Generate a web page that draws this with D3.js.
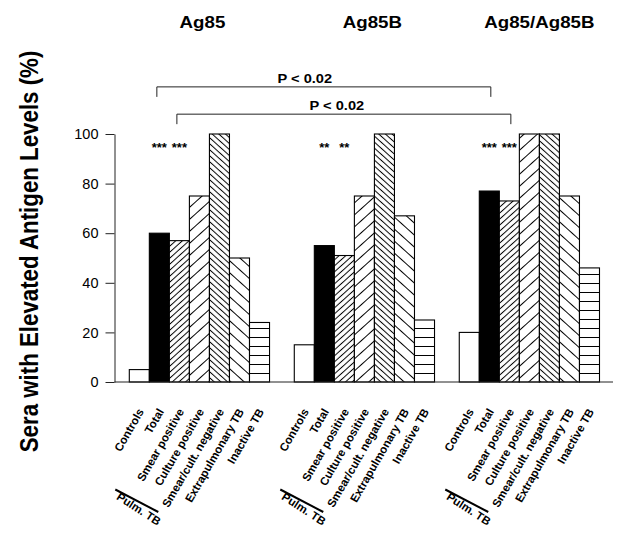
<!DOCTYPE html>
<html>
<head>
<meta charset="utf-8">
<script src="https://cdn.jsdelivr.net/npm/d3@7/dist/d3.min.js"></script>
<style>
  html, body { margin: 0; padding: 0; background: #fff; }
  svg { display: block; font-family: "Liberation Sans", Arial, Helvetica, sans-serif; }
</style>
</head>
<body>
<svg id="chart" width="625" height="541"></svg>
<script>
// ---- data ----
const groups = ["Ag85", "Ag85B", "Ag85/Ag85B"];
const categories = ["Controls", "Total", "Smear positive", "Culture positive",
                    "Smear/cult. negative", "Extrapulmonary TB", "Inactive TB"];
const ag85Values = [5, 60, 57, 75, 100, 50, 24];
const ag85BValues = [15, 55, 51, 75, 100, 67, 25];
const comboValues = [20, 77, 73, 100, 100, 75, 46];
const yTicks = [0, 20, 40, 60, 80, 100];
const starLabels = [
  { group: "Ag85", category: "Total", text: "***" },
  { group: "Ag85", category: "Smear positive", text: "***" },
  { group: "Ag85B", category: "Total", text: "**" },
  { group: "Ag85B", category: "Smear positive", text: "**" },
  { group: "Ag85/Ag85B", category: "Total", text: "***" },
  { group: "Ag85/Ag85B", category: "Smear positive", text: "***" }
];
const brackets = [
  { label: "P < 0.02", from: ["Ag85", "Total"], to: ["Ag85/Ag85B", "Total"], level: 119 },
  { label: "P < 0.02", from: ["Ag85", "Smear positive"], to: ["Ag85/Ag85B", "Smear positive"], level: 108 }
];
const yTitle = "Sera with Elevated Antigen Levels (%)";
const subGroupLabel = "Pulm. TB";

const seriesByGroup = { "Ag85": ag85Values, "Ag85B": ag85BValues, "Ag85/Ag85B": comboValues };
const fills = ["none-white", "solid", "sp", "cp", "sn", "ep", "inact"];

// ---- scales ----
const svg = d3.select("#chart");
const y = d3.scaleLinear().domain([0, 100]).range([382, 134]);
const xGroup = d3.scaleBand().domain(groups).range([129.3, 599.5]).paddingInner(0.15).paddingOuter(0);
const xCat = d3.scaleBand().domain(categories).range([0, xGroup.bandwidth()]).padding(0);
const cx = (g, c) => xGroup(g) + xCat(c) + xCat.bandwidth() / 2;
const SX = 1.17; // horizontal stretch of the original figure's lettering

// ---- patterns ----
const defs = svg.append("defs");
function diag(id, spacing, angle) {
  const p = defs.append("pattern").attr("id", id)
    .attr("patternUnits", "userSpaceOnUse")
    .attr("width", 10).attr("height", spacing)
    .attr("patternTransform", `rotate(${angle})`);
  p.append("rect").attr("width", 10).attr("height", spacing).attr("fill", "#fff");
  p.append("line").attr("x1", -1).attr("x2", 11).attr("y1", spacing / 2).attr("y2", spacing / 2)
    .attr("stroke", "#000").attr("stroke-width", 1);
}
const ang = 42;
const c = Math.cos(ang * Math.PI / 180);
diag("sp", 6 * c, -ang);
diag("cp", 12 * c, -ang);
diag("sn", 6 * c, ang);
diag("ep", 12 * c, ang);
{
  const p = defs.append("pattern").attr("id", "inact")
    .attr("patternUnits", "userSpaceOnUse")
    .attr("x", 0).attr("y", y(0)).attr("width", 10).attr("height", 9);
  p.append("rect").attr("width", 10).attr("height", 9).attr("fill", "#fff");
  p.append("line").attr("x1", 0).attr("x2", 10).attr("y1", 0.5).attr("y2", 0.5)
    .attr("stroke", "#000").attr("stroke-width", 1);
}
const fillFor = f => f === "solid" ? "#000" : f === "none-white" ? "#fff" : `url(#${f})`;

// ---- bars ----
const barData = [];
groups.forEach(g => seriesByGroup[g].forEach((v, i) => barData.push({ g, c: categories[i], v, f: fills[i] })));
svg.append("g").selectAll("rect").data(barData).join("rect")
  .attr("x", d => xGroup(d.g) + xCat(d.c))
  .attr("y", d => y(d.v))
  .attr("width", xCat.bandwidth())
  .attr("height", d => y(0) - y(d.v))
  .attr("fill", d => fillFor(d.f))
  .attr("stroke", "#000").attr("stroke-width", 1.1);

// ---- axes ----
const axisX = 114.5;
const yAxis = svg.append("g").attr("transform", `translate(${axisX},0)`)
  .call(d3.axisLeft(y).tickValues(yTicks).tickSize(9).tickSizeOuter(0).tickPadding(7));
yAxis.select(".domain").attr("stroke", "#222");
yAxis.selectAll(".tick line").attr("stroke", "#222");
yAxis.selectAll("text").attr("font-size", 14.5).attr("fill", "#000")
  .attr("font-family", "Liberation Sans, Arial, sans-serif");

svg.append("line").attr("x1", axisX).attr("x2", 613).attr("y1", y(0)).attr("y2", y(0))
  .attr("stroke", "#222").attr("stroke-width", 1);

// ---- y title ----
svg.append("text").attr("transform", `translate(29,251.5) scale(${SX},1) rotate(-90)`)
  .attr("text-anchor", "middle").attr("dominant-baseline", "central")
  .attr("font-size", 22.3).attr("font-weight", "bold").text(yTitle);

// ---- group titles ----
const titleOffsets = [3, 8, 10];
svg.append("g").selectAll("text").data(groups).join("text")
  .attr("transform", (g, i) => `translate(${xGroup(g) + xGroup.bandwidth() / 2 + titleOffsets[i]},27.5) scale(${SX},1)`)
  .attr("text-anchor", "middle")
  .attr("font-size", 16).attr("font-weight", "bold").text(g => g);

// ---- stars ----
svg.append("g").selectAll("text").data(starLabels).join("text")
  .attr("x", d => cx(d.group, d.category)).attr("y", 152)
  .attr("text-anchor", "middle").attr("font-size", 13).attr("font-weight", "bold")
  .text(d => d.text);

// ---- brackets ----
const bracketLabelShift = [-19, -7];
brackets.forEach((b, i) => {
  const x1 = cx(b.from[0], b.from[1]) - 2.5, x2 = cx(b.to[0], b.to[1]) + 1.5;
  const yy = y(b.level);
  svg.append("path").attr("d", `M${x1},${yy + 10}V${yy}H${x2}V${yy + 10}`)
    .attr("fill", "none").attr("stroke", "#222").attr("stroke-width", 1);
  svg.append("text")
    .attr("transform", `translate(${(x1 + x2) / 2 + bracketLabelShift[i]},${yy - 4}) scale(${SX},1)`)
    .attr("text-anchor", "middle").attr("font-size", 12.5).attr("font-weight", "bold").text(b.label);
});

// ---- x labels ----
const labelData = [];
groups.forEach(g => categories.forEach(c => labelData.push({ g, c })));
svg.append("g").selectAll("text").data(labelData).join("text")
  .attr("transform", d => `translate(${cx(d.g, d.c) + 5},411.5) rotate(-60)`)
  .attr("text-anchor", "end").attr("font-size", 11.5).attr("font-weight", "bold")
  .text(d => d.c);

// ---- Pulm. TB sub-labels ----
groups.forEach(g => {
  const gx = xGroup(g);
  svg.append("line").attr("x1", gx - 14).attr("y1", 489.5).attr("x2", gx + 29).attr("y2", 512)
    .attr("stroke", "#000").attr("stroke-width", 2);
  svg.append("text").attr("transform", `translate(${gx + 9.5},509) rotate(33)`)
    .attr("text-anchor", "middle").attr("dominant-baseline", "central")
    .attr("font-size", 11.5).attr("font-weight", "bold").text(subGroupLabel);
});
</script>
</body>
</html>
